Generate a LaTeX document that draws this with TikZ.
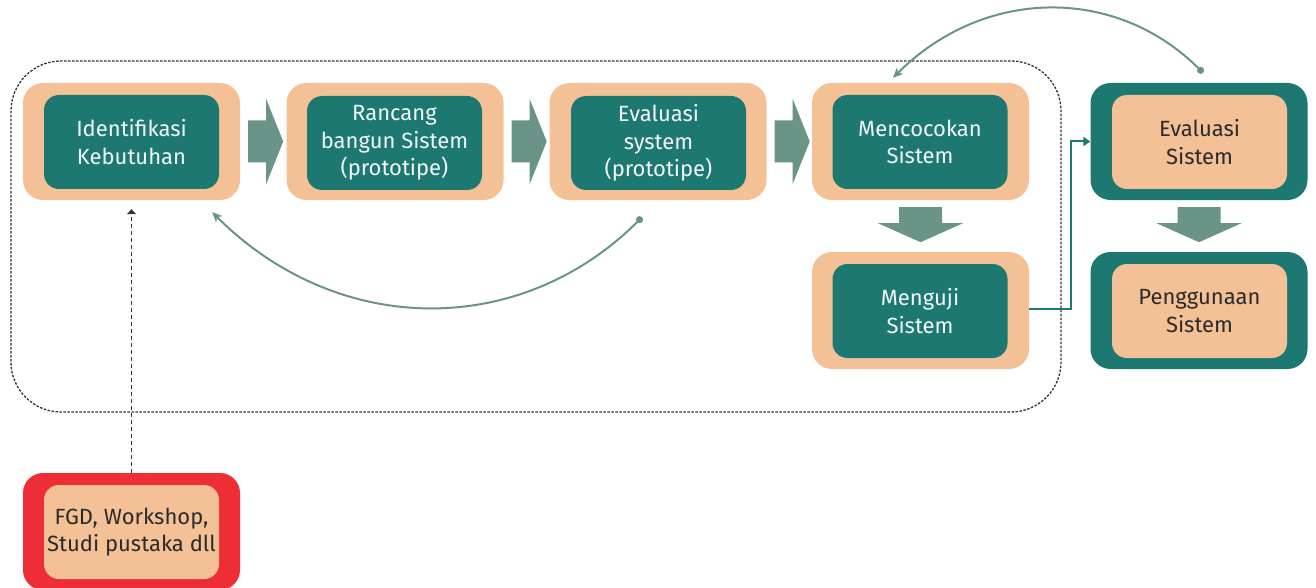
\documentclass[tikz,border=0pt]{standalone}
\usepackage{fontspec}
\setmainfont{Fira Sans}
\usetikzlibrary{arrows.meta,calc}
\definecolor{peach}{HTML}{F4C196}
\definecolor{deepteal}{HTML}{1E7872}
\definecolor{sage}{HTML}{6A9488}
\definecolor{alertred}{HTML}{EE2D36}
\definecolor{ink}{HTML}{2A2A2A}
\definecolor{rule}{HTML}{2E353A}

\begin{document}
\begin{tikzpicture}[x=1pt,y=-1pt,
  outerbox/.style={rounded corners=20pt, minimum width=217pt, minimum height=117pt, inner sep=0pt},
  innerbox/.style={rounded corners=15pt, minimum width=175pt, minimum height=94pt, inner sep=0pt,
    align=center, font=\fontsize{22}{27.5}\selectfont},
  peachframe/.style={outerbox, fill=peach},
  tealframe/.style={outerbox, fill=deepteal},
  redframe/.style={outerbox, fill=alertred},
  tealcore/.style={innerbox, fill=deepteal, text=white!94!deepteal},
  peachcore/.style={innerbox, fill=peach, text=ink},
  blockarrow/.style={fill=sage, draw=none},
  loopback/.style={draw=sage, line width=2pt,
    {Circle[length=7pt]}-{Stealth[length=10pt,width=9pt,inset=3pt]}},
  link/.style={draw=deepteal, line width=2pt, -{Triangle[length=7pt,width=9pt]}},
  groupline/.style={draw=rule, line width=1.3pt, dash pattern=on 2.5pt off 1.5pt, rounded corners=50pt},
  sourcelink/.style={draw=rule, line width=1.5pt, dash pattern=on 4pt off 3pt, -{Triangle[length=5pt,width=9pt]}},
]
\useasboundingbox (0,0) rectangle (1316,588);

% dashed frame around the prototyping cycle
\draw[groupline] (11,61) rectangle (1061,412);

% step boxes: outer frame plus inner labelled card
\node[peachframe] (o1) at (131.5,141.5) {};
\node[tealcore]   (s1) at (131.5,142) {Identifikasi\\Kebutuhan};

\node[peachframe] (o2) at (395,141.5) {};
\node[tealcore]   (s2) at (394.5,143) {Rancang\\bangun Sistem\\(prototipe)};

\node[peachframe] (o3) at (658,141.5) {};
\node[tealcore]   (s3) at (658.5,143) {Evaluasi\\system\\(prototipe)};

\node[peachframe] (o4) at (920.5,141.5) {};
\node[tealcore]   (s4) at (920,142) {Mencocokan\\Sistem};

\node[peachframe] (o5) at (920.5,310.5) {};
\node[tealcore]   (s5) at (920,311) {Menguji\\Sistem};

\node[tealframe]  (o6) at (1199,141.5) {};
\node[peachcore]  (s6) at (1199.5,142) {Evaluasi\\Sistem};

\node[tealframe]  (o7) at (1199,310.5) {};
\node[peachcore]  (s7) at (1199.5,311) {Penggunaan\\Sistem};

\node[redframe]   (o8) at (131.5,531.5) {};
\node[peachcore]  (s8) at (131.5,532) {FGD, Workshop,\\Studi pustaka dll};

% block arrows to the right between the steps of the top row
\foreach \a in {o1,o2,o3}{
  \path[blockarrow] ($(\a.east)+(8,-21)$) -- ++(18,0) -- ++(0,-21.5) -- ++(17,42.5)
    -- ++(-17,42.5) -- ++(0,-21.5) -- ++(-18,0) -- cycle;
}
% block arrows pointing down
\foreach \a in {o4,o6}{
  \path[blockarrow] ($(\a.south)+(-21.5,7)$) -- ++(0,16) -- ++(-21,0) -- ++(42.5,19)
    -- ++(42.5,-19) -- ++(-21,0) -- ++(0,-16) -- cycle;
}

% feedback loops
\coordinate (evalFoot) at ($(o3.south)+(-16,17)$);
\coordinate (identFoot) at ($(o1.south east)+(-28,12)$);
\draw[loopback] (evalFoot) .. controls ($(evalFoot)+(-121,121)$) and ($(identFoot)+(126,126)$) .. (identFoot);

\coordinate (evalTop) at ($(o6.north)+(4,-10)$);
\coordinate (matchTop) at ($(o4.north)+(-27.5,-5)$);
\draw[loopback] (evalTop) .. controls ($(evalTop)+(-87,-87)$) and ($(matchTop)+(91,-91)$) .. (matchTop);

% test result into evaluation
\coordinate (riser) at (1071,0);
\draw[link] ([yshift=1.5pt]o5.east) -| (riser |- o6.west) -- (o6.west);

% inputs from the discussion sources
\draw[sourcelink] (o8.north) -- ($(o1.south)+(0,9)$);
\end{tikzpicture}
\end{document}
